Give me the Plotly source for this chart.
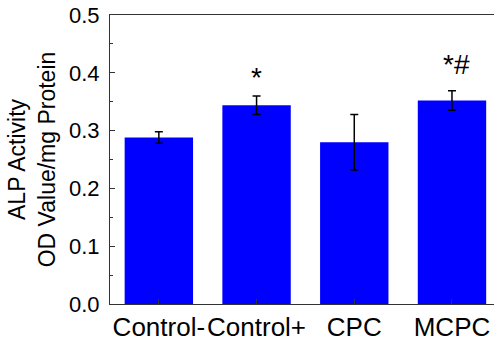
import plotly.graph_objects as go

categories = ["Control-", "Control+", "CPC", "MCPC"]
values = [0.288, 0.344, 0.280, 0.352]
errors = [0.010, 0.016, 0.048, 0.017]
marks = ["", "*", "", "*#"]
mark_y = [None, 0.392, None, 0.414]
ytick_vals = [0.0, 0.1, 0.2, 0.3, 0.4, 0.5]

FONT = "Liberation Sans, Arial, sans-serif"
AX = "#333333"

fig = go.Figure()
fig.add_trace(go.Bar(
    x=categories, y=values,
    marker=dict(color="#0000FF", line=dict(width=0)),
    error_y=dict(type="data", array=errors, color="black", thickness=1.5, width=4),
    width=0.7,
))

for c, m, yy in zip(categories, marks, mark_y):
    if m:
        fig.add_annotation(x=c, y=yy, text=m, showarrow=False,
                           xshift=5 if len(m) > 1 else 0,
                           yanchor="middle",
                           font=dict(family=FONT, size=28, color="black"))

fig.update_layout(
    width=494, height=341,
    margin=dict(l=110, r=0, t=15, b=37),
    paper_bgcolor="white", plot_bgcolor="white",
    showlegend=False,
    font=dict(family=FONT, color="black"),
)
fig.update_xaxes(
    type="category", range=[-0.5, 3.43], automargin=False,
    showline=True, linecolor=AX, linewidth=1.2, mirror=True,
    ticks="inside", ticklen=5, tickcolor=AX, tickwidth=1.2,
    tickangle=0,
    tickfont=dict(family=FONT, size=26, color="black"),
    showgrid=False, zeroline=False,
)
fig.update_yaxes(
    range=[0, 0.5], tickvals=ytick_vals, tickformat=".1f", automargin=False,
    showline=True, linecolor=AX, linewidth=1.2,
    ticks="inside", ticklen=5, tickcolor=AX, tickwidth=1.2,
    minor=dict(ticks="inside", ticklen=3, dtick=0.05, tickcolor=AX, tickwidth=1.2, showgrid=False),
    tickfont=dict(family=FONT, size=22, color="black"),
    ticklabelstandoff=5,
    title=dict(text="ALP Activity<br>OD Value/mg Protein",
               font=dict(family=FONT, size=23, color="black"), standoff=6),
    showgrid=False, zeroline=False,
)

fig.write_html("out.html")
